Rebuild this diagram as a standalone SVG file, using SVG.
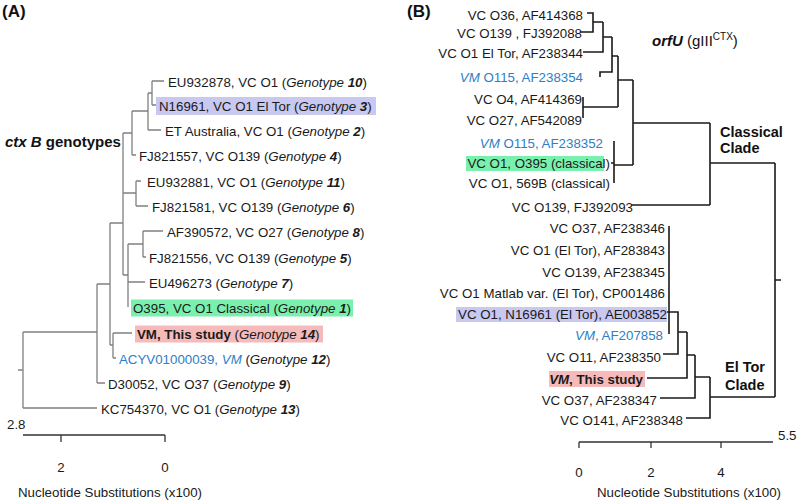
<svg xmlns="http://www.w3.org/2000/svg" width="800" height="502" viewBox="0 0 800 502">
<style>
.t{font-family:"Liberation Sans",Arial,sans-serif;font-size:13.3px;fill:#1a1a1a}
.i{font-style:italic}
.b{font-weight:bold}
.bl{fill:#2b80c8}
.e{text-anchor:end}
.m{text-anchor:middle}
.h{font-family:"Liberation Sans",Arial,sans-serif;font-weight:bold;fill:#111}
.gl{fill:none;stroke:#808080;stroke-width:1.3}
.kl{fill:none;stroke:#1a1a1a;stroke-width:1.6}
.ax{fill:none;stroke:#333;stroke-width:1.3}
.lav{fill:#c8c8f0}
.grn{fill:#7af0ae}
.pnk{fill:#f6baba}
</style>
<rect width="800" height="502" fill="#fff"/>

<!-- Panel A -->
<text class="h" x="2" y="17" font-size="17">(A)</text>
<text class="h" x="5" y="147" font-size="15"><tspan font-style="italic">ctx B</tspan> genotypes</text>

<g id="connectors-A" class="gl">
<path d="M152,81V105M152,81H164M152,105H156"/>
<path d="M148,93V130M148,93H152M148,130H161"/>
<path d="M132,111V155M132,111H148M132,155H136"/>
<path d="M136,181V206M136,181H141M136,206H148"/>
<path d="M143,231V257M143,231H163M143,257H146"/>
<path d="M128,244V307M128,244H143M128,282H145"/>
<path d="M123,133V275M123,133H132M123,193H136M123,275H128"/>
<path d="M113,333V358M113,333H132M113,358H116"/>
<path d="M110,223V345M110,223H123M110,345H113"/>
<path d="M97,284V383M97,284H110M97,383H105"/>
<path d="M23,332V408M23,332H97M23,408H97M18,370H23"/>
</g>

<g id="a-l1"><text class="t" x="168" y="87">EU932878, VC O1 (<tspan class="i">Genotype </tspan><tspan class="i b">10</tspan>)</text></g>
<g id="a-l2"><rect class="lav" x="156" y="97" width="220" height="18"/><text class="t" x="159" y="111">N16961, VC O1 El Tor (<tspan class="i">Genotype </tspan><tspan class="i b">3</tspan>)</text></g>
<g id="a-l3"><text class="t" x="165" y="136">ET Australia, VC O1 (<tspan class="i">Genotype </tspan><tspan class="i b">2</tspan>)</text></g>
<g id="a-l4"><text class="t" x="139" y="161">FJ821557, VC O139 (<tspan class="i">Genotype </tspan><tspan class="i b">4</tspan>)</text></g>
<g id="a-l5"><text class="t" x="147" y="187">EU932881, VC O1 (<tspan class="i">Genotype </tspan><tspan class="i b">11</tspan>)</text></g>
<g id="a-l6"><text class="t" x="152" y="212">FJ821581, VC O139 (<tspan class="i">Genotype </tspan><tspan class="i b">6</tspan>)</text></g>
<g id="a-l7"><text class="t" x="167" y="237">AF390572, VC O27 (<tspan class="i">Genotype </tspan><tspan class="i b">8</tspan>)</text></g>
<g id="a-l8"><text class="t" x="149" y="263">FJ821556, VC O139 (<tspan class="i">Genotype </tspan><tspan class="i b">5</tspan>)</text></g>
<g id="a-l9"><text class="t" x="149" y="288">EU496273 (<tspan class="i">Genotype </tspan><tspan class="i b">7</tspan>)</text></g>
<g id="a-l10"><rect class="grn" x="131" y="299.5" width="222" height="17"/><text class="t" x="133" y="313">O395, VC O1 Classical (<tspan class="i">Genotype </tspan><tspan class="i b">1</tspan>)</text></g>
<g id="a-l11"><rect class="pnk" x="135" y="325.5" width="188" height="17"/><text class="t" x="137" y="339"><tspan class="b">VM, This study</tspan> (<tspan class="i">Genotype </tspan><tspan class="i b">14</tspan>)</text></g>
<g id="a-l12"><text class="t" x="119" y="364"><tspan class="bl">ACYV01000039, </tspan><tspan class="bl i">VM</tspan> (<tspan class="i">Genotype </tspan><tspan class="i b">12</tspan>)</text></g>
<g id="a-l13"><text class="t" x="108" y="389">D30052, VC O37 (<tspan class="i">Genotype </tspan><tspan class="i b">9</tspan>)</text></g>
<g id="a-l14"><text class="t" x="101" y="414">KC754370, VC O1 (<tspan class="i">Genotype </tspan><tspan class="i b">13</tspan>)</text></g>

<g id="a-scale">
<text class="t" x="7" y="429">2.8</text>
<path class="ax" d="M23,435H165M61,435V442M165,435V442"/>
<text class="t m" x="61" y="472">2</text>
<text class="t m" x="165" y="472">0</text>
<text class="t" x="18" y="497">Nucleotide Substitutions (x100)</text>
</g>

<!-- Panel B -->
<text class="h" x="407" y="17" font-size="17">(B)</text>
<text class="h" x="652" y="46" font-size="15"><tspan font-style="italic">orfU</tspan><tspan font-weight="normal"> (gIII</tspan><tspan font-weight="normal" font-size="10" dy="-6">CTX</tspan><tspan font-weight="normal" dy="6">)</tspan></text>
<text class="h" x="720" y="137" font-size="14.5">Classical</text>
<text class="h" x="720" y="153" font-size="14.5">Clade</text>
<text class="h" x="725" y="372" font-size="14.5">El Tor</text>
<text class="h" x="725" y="390" font-size="14.5">Clade</text>

<g id="connectors-B" class="kl">
<path d="M587,13H593V32H580M593,22H603"/>
<path d="M603,22V52H583M603,37H612"/>
<path d="M612,37V72H600V77"/>
<path d="M583,97V118M583,107H618M612,56H618"/>
<path d="M618,56V107M618,80H633"/>
<path d="M614,141V183M611,163H614M614,165H633"/>
<path d="M633,80V165M633,123H710"/>
<path d="M631,205H710M710,123V205M710,163H775"/>
<path d="M669,226V334"/>
<path d="M667,312H678V354H663M678,332H687"/>
<path d="M687,332V378H647M687,355H695"/>
<path d="M695,355V398H660M695,377H710"/>
<path d="M710,377V418H686M710,397H775"/>
<path d="M775,163V397M775,280H781"/>
</g>

<g id="b-l1"><text class="t e" x="583" y="20">VC O36, AF414368</text></g>
<g id="b-l2"><text class="t e" x="582" y="38">VC O139 , FJ392088</text></g>
<g id="b-l3"><text class="t e" x="583" y="58">VC O1 El Tor, AF238344</text></g>
<g id="b-l4"><text class="t e bl" x="583" y="82"><tspan class="i">VM</tspan> O115, AF238354</text></g>
<g id="b-l5"><text class="t e" x="582" y="104">VC O4, AF414369</text></g>
<g id="b-l6"><text class="t e" x="582" y="125">VC O27, AF542089</text></g>
<g id="b-l7"><text class="t e bl" x="603" y="148"><tspan class="i">VM</tspan> O115, AF238352</text></g>
<g id="b-l8"><rect class="grn" x="466" y="156" width="138" height="15"/><text class="t e" x="610" y="168">VC O1, O395 (classical)</text></g>
<g id="b-l9"><text class="t e" x="610" y="188">VC O1, 569B (classical)</text></g>
<g id="b-l10"><text class="t e" x="633" y="212">VC O139, FJ392093</text></g>
<g id="b-l11"><text class="t e" x="665" y="233">VC O37, AF238346</text></g>
<g id="b-l12"><text class="t e" x="665" y="255">VC O1 (El Tor), AF283843</text></g>
<g id="b-l13"><text class="t e" x="665" y="277">VC O139, AF238345</text></g>
<g id="b-l14"><text class="t e" x="665" y="298">VC O1 Matlab var. (El Tor), CP001486</text></g>
<g id="b-l15"><rect class="lav" x="456" y="307" width="211" height="15"/><text class="t e" x="667" y="319">VC O1, N16961 (El Tor), AE003852</text></g>
<g id="b-l16"><text class="t e bl" x="663" y="340"><tspan class="i">VM</tspan>, AF207858</text></g>
<g id="b-l17"><text class="t e" x="661" y="362">VC O11, AF238350</text></g>
<g id="b-l18"><rect class="pnk" x="549" y="371" width="96" height="16"/><text class="t e b" x="643" y="384"><tspan class="i">VM</tspan>, This study</text></g>
<g id="b-l19"><text class="t e" x="657" y="405">VC O37, AF238347</text></g>
<g id="b-l20"><text class="t e" x="683" y="425">VC O141, AF238348</text></g>

<g id="b-scale">
<path class="ax" d="M579,442H773M579,442V448M651,442V448M721,442V448"/>
<text class="t" x="778" y="440">5.5</text>
<text class="t m" x="579" y="477">0</text>
<text class="t m" x="651" y="477">2</text>
<text class="t m" x="721" y="477">4</text>
<text class="t" x="597" y="497">Nucleotide Substitutions (x100)</text>
</g>
</svg>
